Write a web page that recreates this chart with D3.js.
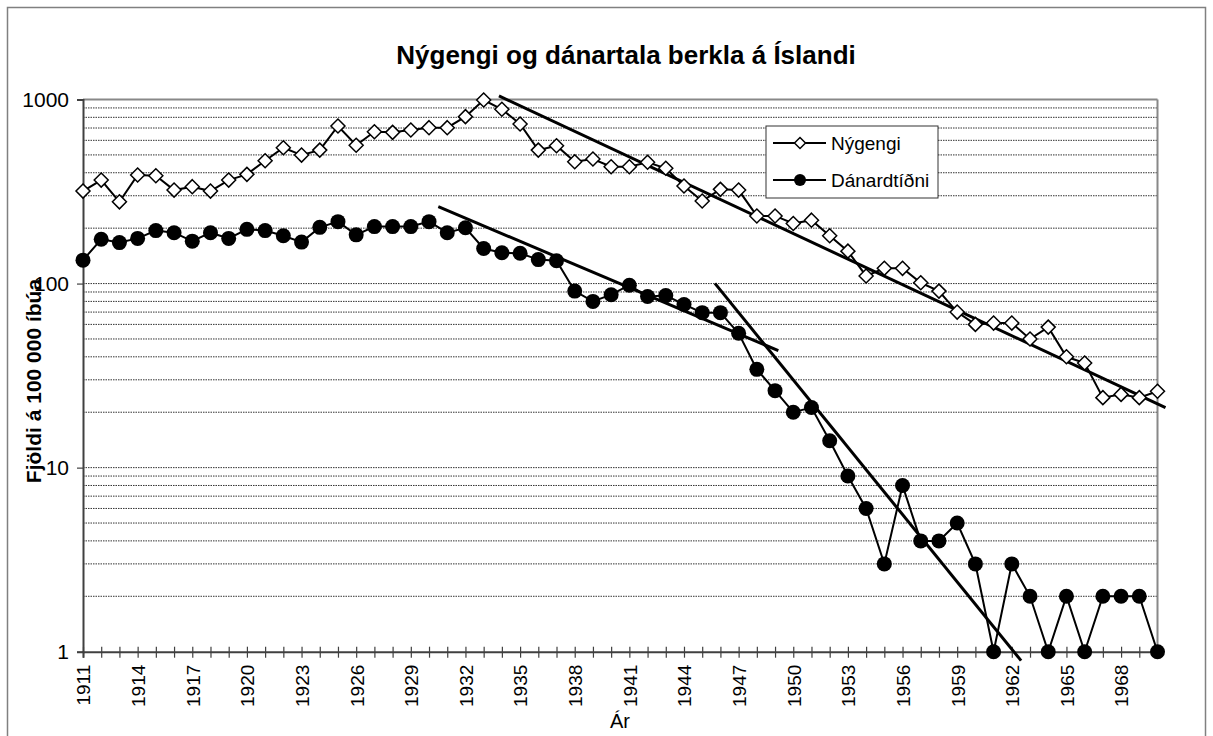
<!DOCTYPE html>
<html>
<head>
<meta charset="utf-8">
<script src="https://cdn.jsdelivr.net/npm/d3@7/dist/d3.min.js"></script>
<style>
  html, body { margin: 0; padding: 0; background: #fff; }
  svg { display: block; font-family: "Liberation Sans", Arial, sans-serif; }
</style>
</head>
<body>
<svg id="chart" width="1213" height="736"></svg>
<script>
// ---------- data ----------
const years = [1911,1912,1913,1914,1915,1916,1917,1918,1919,1920,
  1921,1922,1923,1924,1925,1926,1927,1928,1929,1930,
  1931,1932,1933,1934,1935,1936,1937,1938,1939,1940,
  1941,1942,1943,1944,1945,1946,1947,1948,1949,1950,
  1951,1952,1953,1954,1955,1956,1957,1958,1959,1960,
  1961,1962,1963,1964,1965,1966,1967,1968,1969,1970];

const nygengi = [318,365,278,389,385,322,336,318,365,392,
  465,547,499,531,718,564,668,663,683,703,
  703,807,993,885,736,531,561,459,475,431,
  431,456,423,339,281,325,322,233,233,212,
  221,182,150,110,121,121,101,91,70,60,
  61,61,50,58,40,37,24,25,24,26];

const danartidni = [134,174,167,176,194,189,170,189,176,197,
  194,182,168,202,217,184,204,204,204,217,
  189,201,155,147,146,135,133,91,80,87,
  98,85,86,77,69.5,69.5,53.7,34.2,26.2,20,
  21.2,14,9,6,3,8,4,4,5,3,
  1,3,2,1,2,1,2,2,2,1];

// trend lines: [year, value] endpoints
const trendNygengi = [[1933.84, 1045], [1970.44, 21.2]];
const trendDan1 = [[1930.51, 261.5], [1949.18, 43.2]];
const trendDan2 = [[1945.70, 100.3], [1962.51, 0.894]];

const xTickLabels = [1911,1914,1917,1920,1923,1926,1929,1932,1935,1938,1941,1944,1947,1950,1953,1956,1959,1962,1965,1968];
const yTickValues = [1, 10, 100, 1000];
const gridValues = [2,3,4,5,6,7,8,9,10,20,30,40,50,60,70,80,90,100,200,300,400,500,600,700,800,900];

const seriesNames = ["Nýgengi", "Dánardtíðni"];
const titleText = "Nýgengi og dánartala berkla á Íslandi";
const xTitle = "Ár";
const yTitle = "Fjöldi á 100 000 íbúa";

// ---------- layout ----------
const svg = d3.select("#chart");
const L = 83, R = 1157.5, T = 99.5, B = 651.7;

const x = d3.scaleLinear().domain([1911, 1970]).range([L, R]);
const y = d3.scaleLog().domain([1, 1000]).range([B, T]);

// outer border
svg.append("rect").attr("x", 7.5).attr("y", 7.5).attr("width", 1198).attr("height", 740)
  .attr("fill", "#fff").attr("stroke", "#808080").attr("stroke-width", 1.5);

// title
svg.append("text").attr("x", 626).attr("y", 64).attr("text-anchor", "middle")
  .attr("font-size", 26).attr("font-weight", "bold").text(titleText);

// gridlines
svg.append("g").selectAll("line").data(gridValues).join("line")
  .attr("x1", L).attr("x2", R)
  .attr("y1", d => y(d)).attr("y2", d => y(d))
  .attr("stroke", "#333").attr("stroke-width", 1).attr("stroke-dasharray", "1.5,1");

// plot frame top and right
svg.append("line").attr("x1", L).attr("x2", R).attr("y1", T).attr("y2", T)
  .attr("stroke", "#888").attr("stroke-width", 2);
svg.append("line").attr("x1", R).attr("x2", R).attr("y1", T).attr("y2", B)
  .attr("stroke", "#888").attr("stroke-width", 2);

// y axis
const yAxis = svg.append("g").attr("transform", `translate(${L},0)`)
  .call(d3.axisLeft(y).tickValues(yTickValues).tickFormat(d3.format("d")).tickSize(6).tickPadding(8));
yAxis.select(".domain").attr("stroke", "#404040").attr("stroke-width", 2);
yAxis.selectAll(".tick line").attr("stroke", "#404040").attr("stroke-width", 1.2);
yAxis.selectAll(".tick text").attr("font-size", 21).attr("fill", "#000")
  .attr("font-family", "Liberation Sans, Arial, sans-serif");

// x axis
const xAxis = svg.append("g").attr("transform", `translate(0,${B})`)
  .call(d3.axisBottom(x).tickValues(years).tickSize(6)
    .tickFormat(d => xTickLabels.includes(d) ? String(d) : ""));
xAxis.select(".domain").attr("stroke", "#404040").attr("stroke-width", 2);
xAxis.selectAll(".tick line").attr("y1", -5).attr("y2", 6).attr("stroke", "#404040").attr("stroke-width", 1.2);
xAxis.selectAll(".tick text")
  .attr("font-size", 19).attr("fill", "#000")
  .attr("font-family", "Liberation Sans, Arial, sans-serif")
  .attr("transform", "rotate(-90)")
  .attr("text-anchor", "end")
  .attr("x", -13).attr("y", 0).attr("dy", "0.36em");

// axis titles
svg.append("text").attr("x", 620).attr("y", 728).attr("text-anchor", "middle")
  .attr("font-size", 20).text(xTitle);
svg.append("text").attr("transform", "translate(41,381) rotate(-90)")
  .attr("text-anchor", "middle").attr("font-size", 21).attr("font-weight", "bold").text(yTitle);

// lines
const line = d3.line().x((d, i) => x(years[i])).y(d => y(d));
svg.append("path").datum(nygengi).attr("d", line).attr("fill", "none")
  .attr("stroke", "#000").attr("stroke-width", 2);
svg.append("path").datum(danartidni).attr("d", line).attr("fill", "none")
  .attr("stroke", "#000").attr("stroke-width", 2);

// trend lines
const tline = d3.line().x(d => x(d[0])).y(d => y(d[1]));
[trendNygengi, trendDan1, trendDan2].forEach(t => {
  svg.append("path").datum(t).attr("d", tline).attr("fill", "none")
    .attr("stroke", "#000").attr("stroke-width", 3);
});

// markers
const diamond = (cx, cy, r) => `M${cx},${cy - r}L${cx + r},${cy}L${cx},${cy + r}L${cx - r},${cy}Z`;
svg.append("g").selectAll("path").data(nygengi).join("path")
  .attr("d", (d, i) => diamond(x(years[i]), y(d), 7))
  .attr("fill", "#fff").attr("stroke", "#000").attr("stroke-width", 1.5);
svg.append("g").selectAll("circle").data(danartidni).join("circle")
  .attr("cx", (d, i) => x(years[i])).attr("cy", d => y(d)).attr("r", 7.5)
  .attr("fill", "#000");

// legend
const lg = svg.append("g");
lg.append("rect").attr("x", 766).attr("y", 126).attr("width", 172).attr("height", 72)
  .attr("fill", "#fff").attr("stroke", "#333").attr("stroke-width", 1);
const rows = [143, 180];
rows.forEach((ry, i) => {
  lg.append("line").attr("x1", 773).attr("x2", 826).attr("y1", ry).attr("y2", ry)
    .attr("stroke", "#000").attr("stroke-width", 2);
  if (i === 0) {
    lg.append("path").attr("d", diamond(800, ry, 5.5)).attr("fill", "#fff")
      .attr("stroke", "#000").attr("stroke-width", 1.5);
  } else {
    lg.append("circle").attr("cx", 800).attr("cy", ry).attr("r", 6).attr("fill", "#000");
  }
  lg.append("text").attr("x", 831).attr("y", ry).attr("dy", "0.35em")
    .attr("font-size", 19).text(seriesNames[i]);
});
</script>
</body>
</html>
